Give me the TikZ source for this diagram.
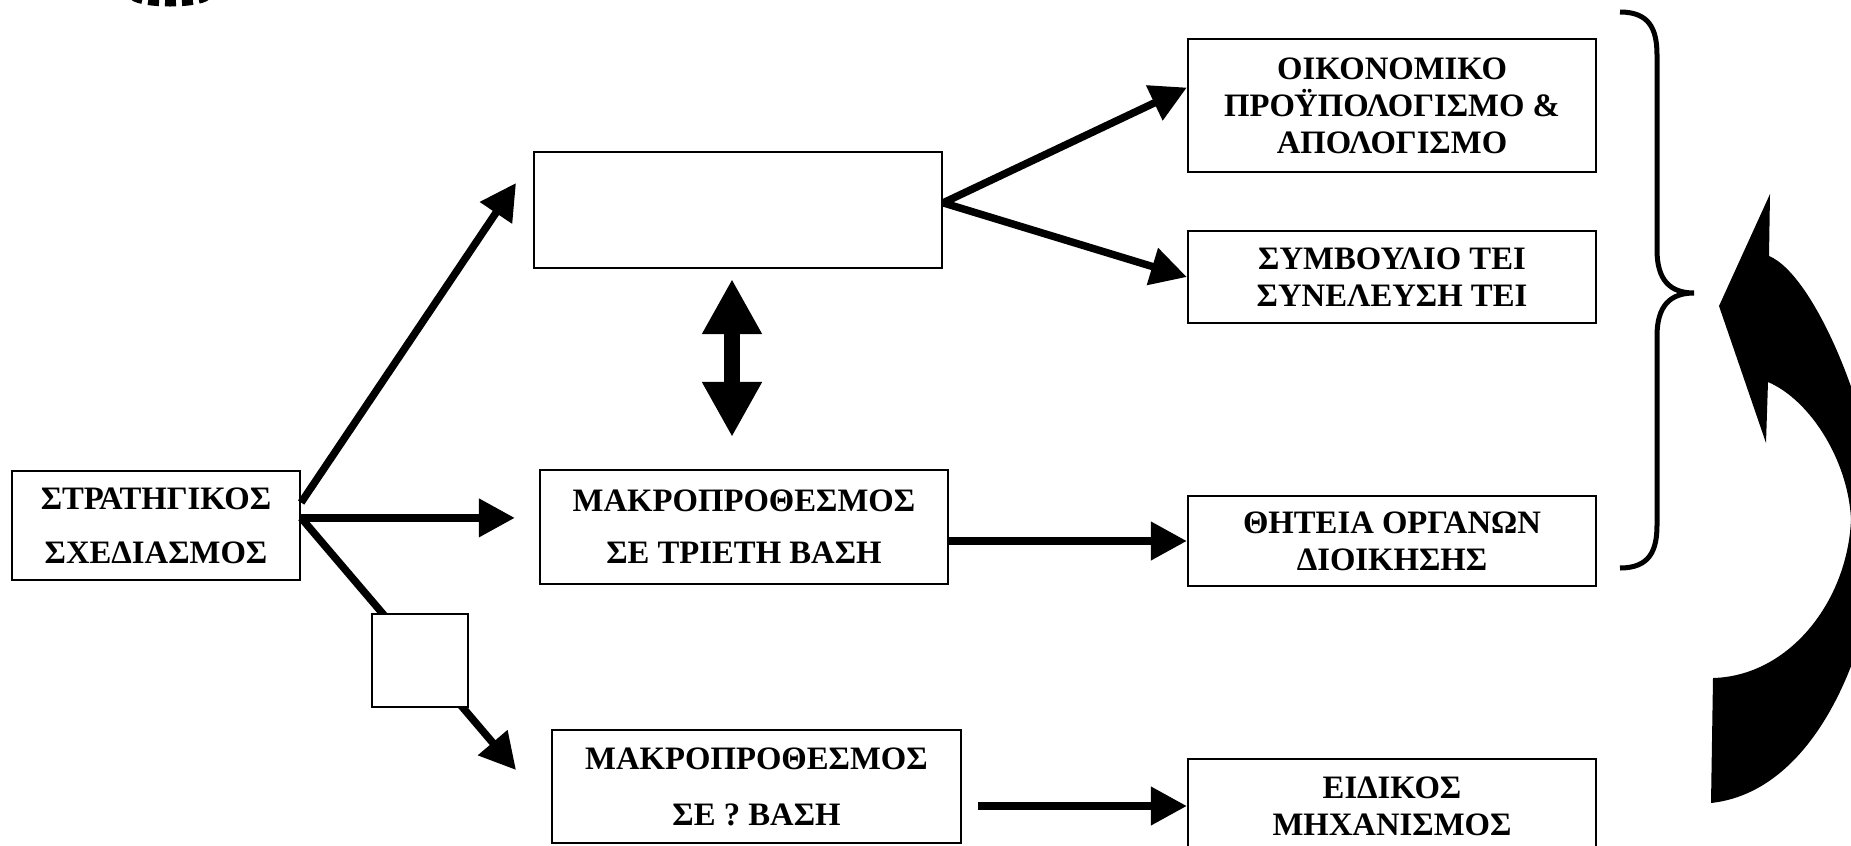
\documentclass[tikz,border=0pt]{standalone}
\usepackage{fontspec}
\setmainfont{Liberation Serif}
\usepackage{tikz}
\usetikzlibrary{arrows.meta}

\tikzset{
  box/.style={draw, line width=0.6pt, inner sep=0pt, align=center, font=\fontsize{9.3}{10.5}\selectfont\bfseries},
  widebox/.style={box, font=\fontsize{9.3}{15.3}\selectfont\bfseries},
  conn/.style={line width=0.075cm, -{Triangle[length=0.36cm,width=0.37cm]}},
  dblarrow/.style={line width=0.16cm, {Triangle[length=0.55cm,width=0.56cm]}-{Triangle[length=0.55cm,width=0.56cm]}},
}

\begin{document}
\begin{tikzpicture}[x=0.01cm, y=-0.01cm]
\useasboundingbox (0,0) rectangle (1851,845);
\clip (0,0) rectangle (1851,845);
% leftover marks at top edge
\draw[line width=0.07cm, dash pattern=on 0.11cm off 0.06cm] (170,-5) ellipse [x radius=38, y radius=8];
% draw boxes
\node[widebox, minimum width=2.88cm, minimum height=1.09cm] (strat) at (156,525.5) {ΣΤΡΑΤΗΓΙΚΟΣ\\ΣΧΕΔΙΑΣΜΟΣ};
\node[box, minimum width=4.08cm, minimum height=1.16cm] (blank) at (738,210) {};
\node[widebox, font=\fontsize{9.3}{14.7}\selectfont\bfseries, minimum width=4.08cm, minimum height=1.14cm] (trien) at (744,527) {ΜΑΚΡΟΠΡΟΘΕΣΜΟΣ\\ΣΕ ΤΡΙΕΤΗ ΒΑΣΗ};
\node[widebox, font=\fontsize{9.3}{15.9}\selectfont\bfseries, minimum width=4.09cm, minimum height=1.13cm] (longq) at (756.5,786.5) {ΜΑΚΡΟΠΡΟΘΕΣΜΟΣ\\ΣΕ ? ΒΑΣΗ};
\node[box, minimum width=4.08cm, minimum height=1.33cm] (budget) at (1392,105.5) {ΟΙΚΟΝΟΜΙΚΟ\\ΠΡΟΫΠΟΛΟΓΙΣΜΟ \&\\ΑΠΟΛΟΓΙΣΜΟ};
\node[box, minimum width=4.08cm, minimum height=0.92cm] (council) at (1392,277) {ΣΥΜΒΟΥΛΙΟ ΤΕΙ\\ΣΥΝΕΛΕΥΣΗ ΤΕΙ};
\node[box, minimum width=4.08cm, minimum height=0.90cm] (term) at (1392,541) {ΘΗΤΕΙΑ ΟΡΓΑΝΩΝ\\ΔΙΟΙΚΗΣΗΣ};
\node[box, minimum width=4.08cm, minimum height=0.94cm] (mech) at (1392,806) {ΕΙΔΙΚΟΣ\\ΜΗΧΑΝΙΣΜΟΣ};
% arrow ends
\coordinate (tipblank) at (516,183);
\coordinate (tiplong) at (516,770);
\coordinate (dblA) at (732,279);
\coordinate (dblB) at (732,437);
% draw connectors
\draw[conn] (strat.9) -- (tipblank);
\draw[conn, shorten >=0.24cm] (strat.3) -- (strat.3 -| trien.west);
\draw[conn] (strat.3) -- (tiplong);
\node[box, fill=white, minimum width=0.96cm, minimum height=0.93cm] (sq) at (420,660.5) {};
\draw[conn] (blank.2) -- (budget.175);
\draw[conn] (blank.2) -- (council.west);
\draw[conn] (trien.east |- term.west) -- (term.west);
\draw[conn] ([xshift=0.16cm]longq.east |- mech.west) -- (mech.west);
\draw[dblarrow] (dblA) -- (dblB);
% draw brace
\draw[line width=0.05cm] (1620,12) .. controls (1650,12) and (1657,30) .. (1657,55)
  -- (1657,250) .. controls (1657,280) and (1670,293) .. (1694,293)
  .. controls (1670,293) and (1657,306) .. (1657,336)
  -- (1657,525) .. controls (1657,550) and (1650,568) .. (1620,568);
% draw curved arrow
\fill (1719,306) -- (1770,194) -- (1769,256)
  .. controls (1815,275) and (1875,420) .. (1879,518)
  .. controls (1882,610) and (1830,790) .. (1711,803)
  -- (1713,678)
  .. controls (1790,676) and (1848,600) .. (1851,519)
  .. controls (1848,460) and (1810,400) .. (1768,382)
  -- (1766,443) -- cycle;
\end{tikzpicture}
\end{document}
